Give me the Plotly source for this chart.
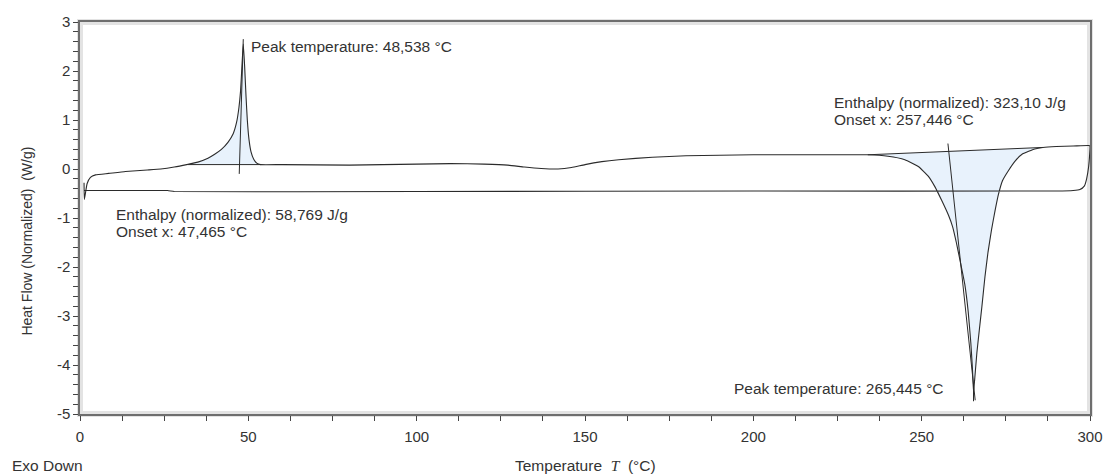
import plotly.graph_objects as go

# ---- data ----
heat_T = [1.2, 1.3, 2.1, 3.1, 4.6, 8.5, 13.5, 20, 24, 28, 31.7, 35, 38, 40, 42, 44, 45.5, 46.5,
          47.2, 47.7, 48.1, 48.5, 48.9, 49.3, 49.7, 50.2, 50.8, 51.6, 52.5, 53.6, 60, 80, 100,
          110, 120, 127, 132, 137, 142, 146, 150, 155, 160, 170, 180, 190, 200, 215, 230, 234,
          240, 245, 249, 252, 254, 256, 258, 259.2, 260.3, 261.5, 262.8, 263.8, 264.6, 265.1,
          265.4, 265.8, 266.4, 267.1, 267.9, 268.8, 269.7, 270.8, 271.8, 272.8, 274, 275.8, 278,
          280, 283.6, 286, 290, 295, 299.6]
heat_HF = [-0.28, -0.62, -0.30, -0.17, -0.12, -0.09, -0.05, -0.02, 0.00, 0.04, 0.09, 0.14, 0.22,
           0.30, 0.40, 0.55, 0.72, 0.95, 1.25, 1.60, 2.10, 2.55, 2.10, 1.50, 1.00, 0.60, 0.35,
           0.20, 0.12, 0.09, 0.09, 0.08, 0.10, 0.11, 0.10, 0.08, 0.04, 0.01, 0.00, 0.03, 0.09,
           0.15, 0.19, 0.24, 0.27, 0.28, 0.29, 0.29, 0.29, 0.29, 0.26, 0.19, 0.05, -0.15, -0.37,
           -0.65, -0.95, -1.18, -1.50, -1.90, -2.35, -2.90, -3.55, -4.10, -4.55, -4.25, -3.75,
           -3.30, -2.80, -2.20, -1.70, -1.22, -0.85, -0.52, -0.24, -0.03, 0.18, 0.31, 0.41,
           0.44, 0.46, 0.47, 0.48]
cool_T = [300, 299.9, 299.6, 299.0, 298.3, 297, 295, 290, 200, 100, 28, 26, 10, 1.3]
cool_HF = [0.47, 0.30, 0.05, -0.20, -0.35, -0.42, -0.44, -0.45, -0.45, -0.46, -0.46, -0.44, -0.44, -0.44]

# integration limits (start, end) of each peak and their baselines
peak1_limits = [31.7, 53.6]
peak1_base = [0.09, 0.09]
peak2_limits = [234, 286]
peak2_base = [0.29, 0.44]

# onset tangent lines
tan1_T = [47.3, 48.5]
tan1_HF = [-0.10, 2.65]
tan2_T = [257.8, 265.9]
tan2_HF = [0.52, -4.72]
peak2_mark_T = [265.4, 265.4]
peak2_mark_HF = [-4.43, -4.74]

labels = [
    (50.3, 2.50, "Peak temperature: 48,538 °C"),
    (10.1, -0.93, "Enthalpy (normalized): 58,769 J/g"),
    (10.1, -1.28, "Onset x: 47,465 °C"),
    (223.5, 1.36, "Enthalpy (normalized): 323,10 J/g"),
    (223.5, 1.01, "Onset x: 257,446 °C"),
    (193.7, -4.47, "Peak temperature: 265,445 °C"),
]

x_ticks = [0, 50, 100, 150, 200, 250, 300]
y_ticks = [-5, -4, -3, -2, -1, 0, 1, 2, 3]
y_tick_text = ["-5", "-4", "-3", "-2", "-1", "0", "1", "2", "3"]

FONT = "Liberation Sans, Arial, sans-serif"
LINE = "#2b2b2b"
FILL = "rgba(226,239,251,0.8)"
TXT = "#333333"
FS = 15.5

fig = go.Figure()


def fill_polygon(limits, base):
    xs = [t for t in heat_T if limits[0] <= t <= limits[1]]
    ys = [h for t, h in zip(heat_T, heat_HF) if limits[0] <= t <= limits[1]]
    return xs + [limits[1], limits[0]], ys + [base[1], base[0]]


for lim, base in ((peak1_limits, peak1_base), (peak2_limits, peak2_base)):
    px, py = fill_polygon(lim, base)
    fig.add_trace(go.Scatter(x=px, y=py, mode="lines", fill="toself", fillcolor=FILL,
                             line=dict(width=0), hoverinfo="skip", showlegend=False))
    fig.add_trace(go.Scatter(x=lim, y=base, mode="lines", line=dict(color=LINE, width=1),
                             hoverinfo="skip", showlegend=False))

fig.add_trace(go.Scatter(x=heat_T + cool_T, y=heat_HF + cool_HF, mode="lines",
                         line=dict(color=LINE, width=1.1, shape="spline", smoothing=0.4),
                         showlegend=False))

for tx, ty in ((tan1_T, tan1_HF), (tan2_T, tan2_HF), (peak2_mark_T, peak2_mark_HF)):
    fig.add_trace(go.Scatter(x=tx, y=ty, mode="lines", line=dict(color=LINE, width=1),
                             hoverinfo="skip", showlegend=False))

for x, y, t in labels:
    fig.add_annotation(x=x, y=y, text=t, showarrow=False, xanchor="left", yanchor="middle",
                       font=dict(family=FONT, size=FS, color=TXT))

# Plot area: 1010 x 392 px.
fig.add_annotation(xref="paper", yref="paper", x=-0.069, y=-0.132, text="Exo Down",
                   showarrow=False, xanchor="left", yanchor="middle",
                   font=dict(family=FONT, size=15.5, color=TXT))
fig.add_annotation(xref="paper", yref="paper", x=0.5, y=-0.132,
                   text="Temperature  <span style='font-family:Liberation Serif,Times New Roman,serif'><i>T</i></span>  (°C)",
                   showarrow=False, xanchor="center", yanchor="middle",
                   font=dict(family=FONT, size=15.5, color=TXT))
fig.add_annotation(xref="paper", yref="paper", x=-0.052, y=0.441,
                   text="Heat Flow (Normalized)  (W/g)", showarrow=False, textangle=-90,
                   xanchor="center", yanchor="middle",
                   font=dict(family=FONT, size=14, color=TXT))

# light grey frame shadow
fig.add_shape(type="rect", xref="paper", yref="paper", x0=0, x1=1, y0=0, y1=1,
              line=dict(color="#e3e3e3", width=6), layer="below")

axis_common = dict(showgrid=False, zeroline=False, showline=True, mirror=True,
                   linecolor="#6e6e6e", linewidth=1.5, ticks="outside", ticklen=5,
                   tickcolor="#444444", tickwidth=1, automargin=False,
                   tickfont=dict(family=FONT, size=15, color=TXT))

fig.update_xaxes(range=[0, 300], tickvals=x_ticks, ticklabelstandoff=3,
                 minor=dict(dtick=12.5, ticks="outside", ticklen=5, tickcolor="#444444"),
                 **axis_common)
fig.update_yaxes(range=[-5, 3], tickvals=y_ticks, ticktext=y_tick_text,
                 minor=dict(dtick=0.2, ticks="outside", ticklen=5, tickcolor="#444444"),
                 **axis_common)

fig.update_layout(width=1105, height=474, margin=dict(l=80, r=15, t=22, b=60),
                  plot_bgcolor="white", paper_bgcolor="white",
                  font=dict(family=FONT, color=TXT))

fig.write_html("out.html", config={"displayModeBar": False},
               post_script="document.body.style.margin='0';document.body.style.overflow='hidden';")
